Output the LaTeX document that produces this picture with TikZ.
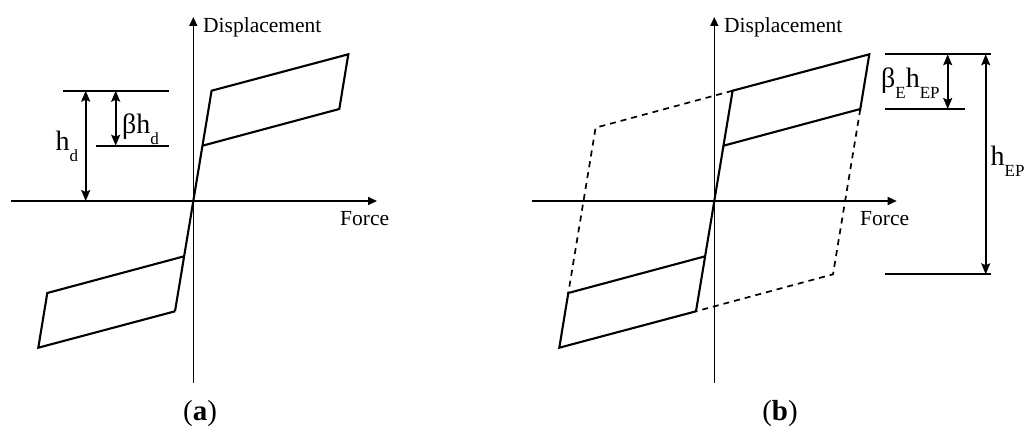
\documentclass[tikz,border=0pt]{standalone}
\usepackage{fontspec}
\setmainfont{Liberation Serif}
\usetikzlibrary{arrows.meta, positioning}
\newcommand{\lowidx}[1]{\raisebox{-0.4em}{\fontsize{17}{17}\selectfont #1}}

\begin{document}
\begin{tikzpicture}[
    x=1pt, y=-1pt,
    axis/.style={line width=1.6pt, -{Triangle[length=9pt, width=8pt]}},
    loopline/.style={line width=2.1pt, line join=miter},
    eploop/.style={line width=1.7pt, dash pattern=on 6pt off 5pt},
    ext/.style={line width=1.7pt},
    dim/.style={line width=1.7pt,
                {Stealth[length=11pt, width=9pt, inset=2pt]}-{Stealth[length=11pt, width=9pt, inset=2pt]}},
    lbl/.style={font=\fontsize{21.5}{25}\selectfont, inner sep=0pt},
    dimlbl/.style={font=\fontsize{28}{32}\selectfont, inner sep=0pt},
    captn/.style={font=\fontsize{29}{34}\selectfont, inner sep=0pt},
  ]
    \useasboundingbox (0,0) rectangle (1025,428);

    % (a) bilinear loop
    \coordinate (xa0) at (11,201);
    \coordinate (xa1) at (377,201);
    \coordinate (ya0) at (193.3,383);
    \coordinate (ya1) at (193.3,17);
    \draw[axis] (xa0) -- (xa1);
    \draw[axis] (ya0) -- (ya1);
    \node[lbl, anchor=base west] (dispa) at (203,32.3) {Displacement};
    \node[lbl, anchor=base west] (forcea) at (340,225) {Force};

    \begin{scope}[shift={(193.3,201)}]
      \draw[loopline] (-18.3,110.3) -- (18.3,-110.3) -- (155,-146.7) -- (146,-92) -- (9.2,-55.3);
      \draw[loopline] (-9.2,55.3) -- (-146,92) -- (-155,146.7) -- (-18.3,110.3);
    \end{scope}

    \coordinate (hdtop) at (85.7,90.7);
    \coordinate (hdbot) at (85.7,201);
    \coordinate (bhtop) at (115.7,90.7);
    \coordinate (bhbot) at (115.7,145.7);
    \draw[ext] (63.3,90.7) -- (169,90.7);
    \draw[ext] (95.7,145.7) -- (169,145.7);
    \draw[dim] (hdtop) -- (hdbot);
    \draw[dim] (bhtop) -- (bhbot);
    \node[dimlbl, anchor=base west] (hd) at (55.5,150) {h\lowidx{d}};
    \node[dimlbl, anchor=base west] (bhd) at (122,133.3) {βh\lowidx{d}};

    \node[captn, anchor=base] (capa) at (200,420) {(\textbf{a})};

    % (b) bilinear vs. elastic-perfectly-plastic loop
    \coordinate (xb0) at (531.7,201);
    \coordinate (xb1) at (896.7,201);
    \coordinate (yb0) at (714.3,383);
    \coordinate (yb1) at (714.3,17);
    \draw[axis] (xb0) -- (xb1);
    \draw[axis] (yb0) -- (yb1);
    \node[lbl, anchor=base west] (dispb) at (724,32.3) {Displacement};
    \node[lbl, anchor=base west] (forceb) at (860,225) {Force};

    \begin{scope}[shift={(714.3,201)}]
      \draw[eploop] (18.3,-110.3) -- (-118.7,-73.3) -- (-146,92);
      \draw[eploop] (146,-92) -- (118.7,73.3) -- (-18.3,110.3);
      \draw[loopline] (-18.3,110.3) -- (18.3,-110.3) -- (155,-146.7) -- (146,-92) -- (9.2,-55.3);
      \draw[loopline] (-9.2,55.3) -- (-146,92) -- (-155,146.7) -- (-18.3,110.3);
    \end{scope}

    \coordinate (betop) at (947.7,54.3);
    \coordinate (bebot) at (947.7,109);
    \coordinate (heptop) at (985.7,54.3);
    \coordinate (hepbot) at (985.7,274.3);
    \draw[ext] (885,54.3) -- (990.7,54.3);
    \draw[ext] (885,109) -- (965,109);
    \draw[ext] (885,274.3) -- (990.7,274.3);
    \draw[dim] (betop) -- (bebot);
    \draw[dim] (heptop) -- (hepbot);
    \node[dimlbl, anchor=base west] (behep) at (881,87.3) {β\lowidx{E}h\lowidx{EP}};
    \node[dimlbl, anchor=base west] (hep) at (990.5,165) {h\lowidx{EP}};

    \node[captn, anchor=base] (capb) at (780,420) {(\textbf{b})};
\end{tikzpicture}
\end{document}
